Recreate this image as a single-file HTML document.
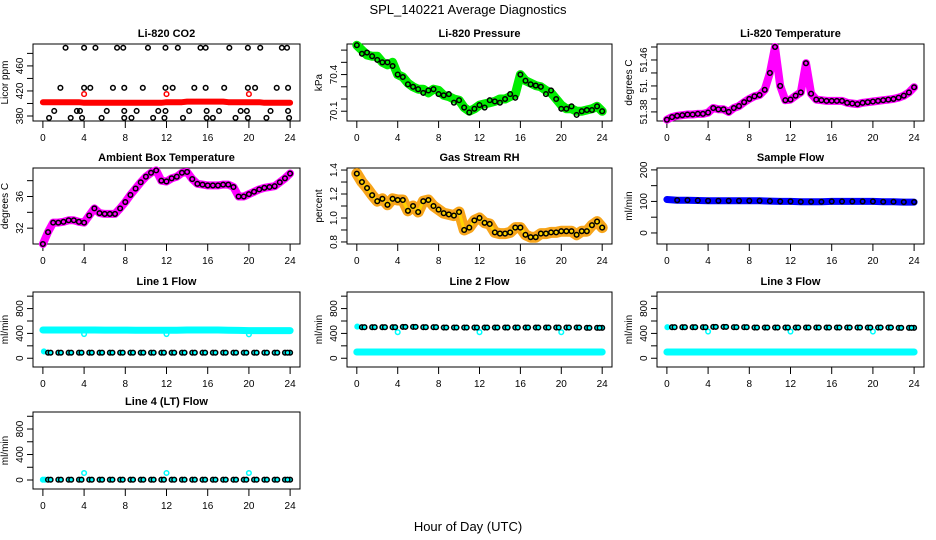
<!DOCTYPE html>
<html><head><meta charset="utf-8"><style>
html,body{margin:0;padding:0;background:#fff}
svg{display:block;font-family:"Liberation Sans",sans-serif}
</style></head><body>
<svg id="chart" width="936" height="540" viewBox="0 0 936 540">
<text x="468" y="14" text-anchor="middle" font-size="13">SPL_140221  Average Diagnostics</text>
<text x="468" y="531" text-anchor="middle" font-size="13">Hour of Day (UTC)</text>
</svg>
<script>
// ---- data ----
const xTicks = [0,4,8,12,16,20,24];
const halfHours = [0,0.5,1,1.5,2,2.5,3,3.5,4,4.5,5,5.5,6,6.5,7,7.5,8,8.5,9,9.5,10,10.5,11,11.5,12,12.5,13,13.5,14,14.5,15,15.5,16,16.5,17,17.5,18,18.5,19,19.5,20,20.5,21,21.5,22,22.5,23,23.5,24];
const hours = [0,1,2,3,4,5,6,7,8,9,10,11,12,13,14,15,16,17,18,19,20,21,22,23,24];
const dipHours = [4,12,20];

const co2Band = [402,402,402,402,402,402,402,402,401,401,401,401,401,401,401,401,401,401,401,401,401,401,401,401,402,402,402,402,403,403,403,403,403,403,403,403,402,402,402,402,402,402,402,401,401,401,401,401,401];
const co2Dips = [415,415,415];
const co2PtHours = [2.2,4.0,5.1,7.2,7.8,10.2,11.9,13.1,15.3,15.8,18.1,19.9,21.1,23.2,23.7,
 1.7,4.0,4.6,6.8,7.9,9.7,11.9,12.6,14.7,15.8,17.6,19.9,20.6,22.7,23.8,
 1.1,3.3,3.6,6.2,7.9,9.1,11.2,11.9,14.2,15.9,17.1,19.2,19.8,22.1,23.8,
 0.6,2.7,3.8,5.7,7.9,8.6,10.7,11.8,13.6,15.9,16.5,18.7,19.9,21.7,23.9];
const co2PtVals = [489,489,489,489,489,489,489,489,489,489,489,489,489,489,489,
 425,425,425,425,425,425,425,425,425,425,425,425,425,425,425,
 388,388,388,388,388,388,388,388,388,388,388,388,388,388,388,
 377,377,377,377,377,377,377,377,377,377,377,377,377,377,377];

const pressure = [70.64,70.6,70.56,70.55,70.55,70.5,70.48,70.5,70.4,70.38,70.33,70.3,70.28,70.28,70.25,70.28,70.27,70.23,70.22,70.2,70.19,70.13,70.1,70.12,70.15,70.16,70.17,70.18,70.2,70.2,70.22,70.24,70.4,70.35,70.33,70.31,70.3,70.27,70.25,70.2,70.15,70.12,70.12,70.1,70.1,70.11,70.12,70.14,70.1];

const liTemp = [51.368,51.372,51.374,51.375,51.376,51.376,51.377,51.377,51.379,51.386,51.384,51.384,51.38,51.386,51.389,51.395,51.4,51.404,51.406,51.414,51.44,51.48,51.42,51.398,51.399,51.405,51.41,51.455,51.408,51.399,51.398,51.397,51.397,51.397,51.397,51.394,51.393,51.392,51.394,51.395,51.396,51.397,51.398,51.399,51.4,51.402,51.405,51.41,51.418];

const ambient = [30.0,31.5,32.7,32.7,32.8,33.0,33.0,32.8,32.7,33.6,34.5,33.9,33.8,33.8,33.8,34.5,35.3,36.2,37.0,37.8,38.5,39.0,39.3,38.0,37.9,38.3,38.5,39.0,39.1,38.2,37.6,37.5,37.4,37.4,37.4,37.5,37.5,37.2,36.0,36.0,36.3,36.6,36.9,37.1,37.2,37.3,37.8,38.3,38.9];

const rh = [1.37,1.3,1.25,1.19,1.14,1.16,1.11,1.16,1.15,1.15,1.06,1.1,1.05,1.14,1.15,1.1,1.07,1.04,1.03,1.02,1.05,0.9,0.92,0.98,1.0,0.96,0.95,0.88,0.87,0.87,0.88,0.92,0.92,0.86,0.84,0.84,0.87,0.87,0.88,0.88,0.89,0.89,0.89,0.86,0.89,0.89,0.94,0.97,0.92];

const sampleFlow = [106,104,104,103,102,102,102,102,102,102,101,100,100,99,99,99,100,100,100,100,100,99,99,98,98];

const line1Hi = [455,455,455,455,455,455,453,453,453,452,450,450,450,452,455,455,455,455,452,448,446,446,446,446,446];
const line1Lo = [95,90,90,90,90,90,90,90,90,90,90,90,90,90,90,90,90,90,90,90,90,90,90,90,90];
const line1Dips = [390,390,385];

const line2Hi = [510,500,500,500,500,505,505,500,500,495,495,495,495,495,495,495,495,495,495,495,495,495,495,490,490];
const line2Lo = [100,100,100,100,100,100,100,100,100,100,100,100,100,100,100,100,100,100,100,100,100,100,100,100,100];
const line2Dips = [420,420,420];

const line3Hi = [500,500,500,500,500,505,505,500,500,495,495,495,495,495,495,495,495,495,495,495,495,495,495,490,490];
const line3Lo = [100,100,100,100,100,100,100,100,100,100,100,100,100,100,100,100,100,100,100,100,100,100,100,100,100];
const line3Dips = [430,430,430];

const line4 = [5,5,5,5,5,5,5,5,5,5,5,5,5,5,5,5,5,5,5,5,5,5,5,5,5];
const line4Dips = [110,110,110];

// ---- layout ----
const NS = 'http://www.w3.org/2000/svg';
const svg = document.getElementById('chart');
const colL = [33,347,657], colR = [300,612,924];
const rowT = [44,168,292,412], rowB = [121,244,367,489];

function mk(tag, attrs, parent) {
  const e = document.createElementNS(NS, tag);
  for (const k in attrs) e.setAttribute(k, attrs[k]);
  (parent || svg).appendChild(e);
  return e;
}

function panel(col, row, name, title, ylab, ylim, yticks, ylabels, ylabelText) {
  const L = colL[col], R = colR[col], T = rowT[row], B = rowB[row];
  const g = mk('g', {});
  
  
  const xs = h => L + (h + 0.96) / 25.92 * (R - L);
  const ys = v => B - (v - ylim[0]) / (ylim[1] - ylim[0]) * (B - T);
  const t = mk('text', {x:(L+R)/2, y:T-7, 'text-anchor':'middle', 'font-size':11, 'font-weight':'bold'}, g);
  t.textContent = title;
  
  
  const box = mk('rect', {x:L, y:T, width:R-L, height:B-T, fill:'none', stroke:'#000', 'stroke-width':1}, g);
  
  
  xTicks.forEach(h => {
    mk('line', {x1:xs(h), x2:xs(h), y1:B, y2:B+7, stroke:'#000'}, g);
    const tl = mk('text', {x:xs(h), y:B+20, 'text-anchor':'middle', 'font-size':10}, g);
    tl.textContent = h;
    
    
  });
  yticks.forEach(v => {
    mk('line', {x1:L-6, x2:L, y1:ys(v), y2:ys(v), stroke:'#000'}, g);
  });
  ylabels.forEach((v,i) => {
    const yl = mk('text', {x:0, y:0, 'text-anchor':'middle', 'font-size':10, transform:`translate(${L-10},${ys(v)}) rotate(-90)`}, g);
    yl.textContent = ylabelText ? ylabelText[i] : v;
    
    
  });
  const yt = mk('text', {x:0, y:0, 'text-anchor':'middle', 'font-size':10, transform:`translate(${L-25},${(T+B)/2}) rotate(-90)`}, g);
  yt.textContent = ylab;
  
  
  return {g, xs, ys};
}

function band(p, xArr, vals, color, w, name) {
  const d = vals.map((v,i) => (i?'L':'M') + p.xs(xArr[i]).toFixed(1) + ',' + p.ys(v).toFixed(1)).join('');
  const e = mk('path', {d, fill:'none', stroke:color, 'stroke-width':w, 'stroke-linejoin':'round', 'stroke-linecap':'round'}, p.g);
  
  
}
function circles(p, xArr, vals, stroke, fill, name, r) {
  vals.forEach((v,i) => {
    const c = mk('circle', {cx:p.xs(xArr[i]), cy:p.ys(v), r:r||2.3, fill:fill, stroke:stroke, 'stroke-width':1.5}, p.g);
    
    
  });
}

// CO2
let p = panel(0,0,'co2','Li-820 CO2','Licor ppm',[372,495],[380,400,420,440,460,480],[380,420,460]);
band(p, halfHours, co2Band, '#ff0000', 6, 'co2-series');
circles(p, dipHours, co2Dips, '#ff0000', 'none', 'co2-red-point');
circles(p, co2PtHours, co2PtVals, '#000', 'none', 'co2-point');

// Pressure
p = panel(1,0,'pressure','Li-820 Pressure','kPa',[70.02,70.65],[70.1,70.2,70.3,70.4,70.5,70.6],[70.1,70.4]);
band(p, halfHours, pressure, '#00ee00', 9, 'pressure-series');
circles(p, halfHours, pressure.map((v,i)=> v - (i%3===1?0.03:0) + (i%4===2?0.02:0)), '#000', 'none', 'pressure-point');

// Li temp
p = panel(2,0,'li-temp','Li-820 Temperature','degrees C',[51.366,51.4846],[51.38,51.40,51.42,51.44,51.46,51.48],[51.38,51.42,51.46],['51.38','51.','51.46']);
band(p, halfHours, liTemp, '#ff00ff', 8, 'li-temp-series');
circles(p, halfHours, liTemp, '#000', 'none', 'li-temp-point');

// Ambient
p = panel(0,1,'ambient','Ambient Box Temperature','degrees C',[30,39.6],[32,34,36,38],[32,36]);
band(p, halfHours, ambient, '#ff00ff', 8, 'ambient-series');
circles(p, halfHours, ambient, '#000', 'none', 'ambient-point');

// RH
p = panel(1,1,'rh','Gas Stream RH','percent',[0.783,1.417],[0.8,0.9,1.0,1.1,1.2,1.3,1.4],[0.8,1.0,1.2,1.4],['0.8','1.0','1.2','1.4']);
band(p, halfHours, rh, '#f7a51a', 11, 'rh-series');
band(p, halfHours, rh, '#ffd400', 3, 'rh-series-core');
circles(p, halfHours, rh, '#000', 'none', 'rh-point');

// Sample flow
p = panel(2,1,'sample-flow','Sample Flow','ml/min',[-35,206],[0,50,100,150,200],[0,100,200]);
band(p, hours, sampleFlow, '#0000ff', 7, 'sample-flow-series');
circles(p, hours.slice(1), sampleFlow.slice(1), '#000', 'none', 'sample-flow-point');

const flowLim = [-141,1067], flowTicks = [0,200,400,600,800,1000], flowLabels = [0,400,800];
// Line 1
p = panel(0,2,'line1','Line 1 Flow','ml/min',flowLim,flowTicks,flowLabels);
band(p, hours, line1Hi, '#00ffff', 7, 'line1-high-series');
circles(p, dipHours, line1Dips, '#00ffff', 'none', 'line1-dip-point');
circles(p, [0.1], [110], '#00ffff', '#00ffff', 'line1-start-point');
circles(p, hours.slice(1).map(h=>h-0.5).concat([24]), line1Lo.slice(1).concat([90]), '#000', '#00ffff', 'line1-low-point');
circles(p, hours.slice(1).map(h=>h-0.25), line1Lo.slice(1), '#000', '#00ffff', 'line1-low-point');

// Line 2
p = panel(1,2,'line2','Line 2 Flow','ml/min',flowLim,flowTicks,flowLabels);
band(p, hours, line2Lo, '#00ffff', 7, 'line2-low-series');
circles(p, [0.05], [510], '#00ffff', '#00ffff', 'line2-start-point');
circles(p, dipHours, line2Dips, '#00ffff', 'none', 'line2-dip-point');
circles(p, hours.slice(1).map(h=>h-0.5).concat([24]), line2Hi.slice(1).concat([490]), '#000', '#00ffff', 'line2-high-point');
circles(p, hours.slice(1).map(h=>h-0.25), line2Hi.slice(1), '#000', '#00ffff', 'line2-high-point');

// Line 3
p = panel(2,2,'line3','Line 3 Flow','ml/min',flowLim,flowTicks,flowLabels);
band(p, hours, line3Lo, '#00ffff', 7, 'line3-low-series');
circles(p, [0.05], [500], '#00ffff', '#00ffff', 'line3-start-point');
circles(p, dipHours, line3Dips, '#00ffff', 'none', 'line3-dip-point');
circles(p, hours.slice(1).map(h=>h-0.5).concat([24]), line3Hi.slice(1).concat([490]), '#000', '#00ffff', 'line3-high-point');
circles(p, hours.slice(1).map(h=>h-0.25), line3Hi.slice(1), '#000', '#00ffff', 'line3-high-point');

// Line 4
p = panel(0,3,'line4','Line 4 (LT) Flow','ml/min',flowLim,flowTicks,flowLabels);
circles(p, [0,0.2], [5,5], '#00ffff', '#00ffff', 'line4-start-point');
circles(p, dipHours, line4Dips, '#00ffff', 'none', 'line4-dip-point');
circles(p, hours.slice(1).map(h=>h-0.5).concat([24]), line4.slice(1).concat([5]), '#000', '#00ffff', 'line4-point');
circles(p, hours.slice(1).map(h=>h-0.25), line4.slice(1), '#000', '#00ffff', 'line4-point');
</script>
</body></html>
